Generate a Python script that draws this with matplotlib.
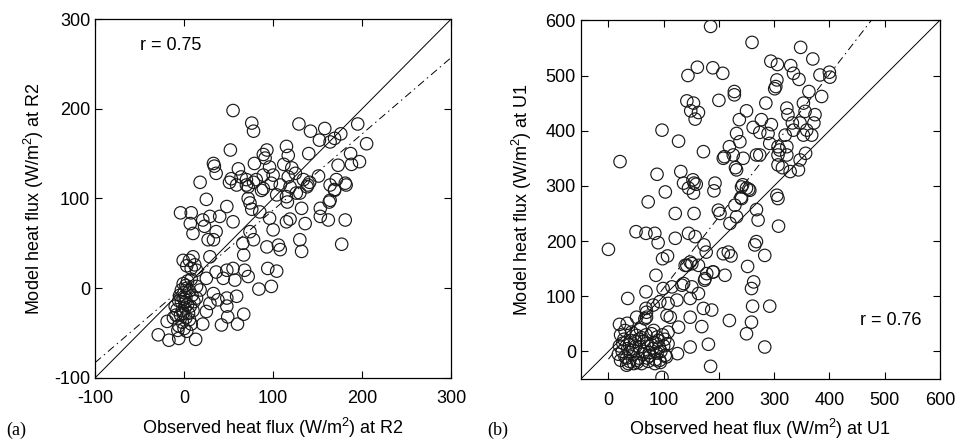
import matplotlib
matplotlib.use("Agg")
import matplotlib.pyplot as plt
import numpy as np

plt.rcParams['font.family'] = ['Liberation Sans', 'DejaVu Sans']
plt.rcParams['mathtext.default'] = 'regular'
plt.rcParams['axes.unicode_minus'] = False

# ---- Panel (a): R2 ----
obs_r2 = [55, 76, 78, 129, 142, 158, 152, 169, 176, 164, 195, 205, 187, 197, 173, 171, 181, 169, 140, 115,
          117, 112, 121, 125, 117, 134, 141, 138, 151, 108, 119, 104, 115, 93, 89, 91, 96, 79, 89, 100,
          81, 78, 72, 87, 52, 33, 34, 36, 61, 53, 64, 70, 51, 59, 18, 25, 72, 126, 164, 70,
          89, 98, 139, 164, 182, 169, 130, 74, 116, 163, -4, 8, 48, 76, 85, 132, 153, 7, 21, 29,
          40, 55, 96, 115, 119, 136, 153, 162, 181, 10, 23, 36, 27, 33, 74, 100, 66, 78, 93, 106,
          108, 130, 132, 177, 67, 29, -1, 6, 12, 14, 25, 36, 48, 55, 44, 57, 68, 72, 94, 104,
          84, 98, 18, 33, 38, 48, 59, 29, 25, 48, 67, 49, 42, 60, 21, 8, -19, -7, -29, -17,
          -6, 13, -10, -9, 14, 14,
          0, 2, -3, 4, -5, 1, -2, 5, -4, 3, -1, 6, 0, -6, 7, 2, -3, 9, -8, 4,
          1, -2, 10, 6, 0, -12, 3, 11, -6, 8, -1, 2, 3, 8, 10, 188]
mod_r2 = [198, 184, 175, 183, 175, 178, 165, 167, 172, 163, 183, 161, 150, 141, 137, 121, 117, 110, 150, 158,
          148, 138, 134, 128, 124, 121, 118, 113, 125, 115, 113, 104, 102, 154, 149, 145, 135, 139, 126, 126,
          121, 118, 113, 109, 154, 139, 136, 128, 133, 122, 124, 121, 118, 115, 118, 99, 100, 106, 98, 115,
          111, 117, 115, 115, 115, 109, 106, 95, 96, 96, 84, 84, 91, 88, 85, 89, 89, 72, 76, 80,
          80, 74, 78, 74, 77, 72, 80, 76, 76, 61, 69, 63, 54, 54, 63, 65, 50, 54, 46, 48,
          43, 54, 41, 49, 37, 35, 31, 31, 26, 20, 11, 18, 20, 22, 11, 9, 20, 13, 22, 19,
          -1, 2, -2, -6, -13, -11, -9, -17, -26, -20, -29, -32, -41, -40, -40, -40, -37, -47, -52, -58,
          -56, -57, -20, -30, -11, 2,
          -5, -10, -15, -18, -8, -22, -25, -28, -30, 0, 5, -3, -12, -14, -20, -33, -2, -8, -24, 8,
          -16, -38, -25, -35, -45, -33, -48, -15, -42, 10, -28, 3, 25, 22, 35, 138]
fit_r2 = (0.85, 2.0)   # slope, intercept of dash-dot regression line
r_r2 = "r = 0.75"

# ---- Panel (b): U1 ----
obs_u1 = [185, 260, 348, 370, 294, 306, 330, 335, 345, 383, 400, 401, 161, 144, 189, 207, 305, 303, 301, 228,
          228, 363, 386, 200, 142, 154, 149, 163, 157, 285, 323, 353, 356, 374, 325, 372, 250, 237, 277, 295,
          262, 274, 289, 333, 347, 335, 359, 368, 353, 320, 232, 238, 219, 226, 208, 244, 268, 292, 307, 310,
          323, 307, 323, 307, 315, 329, 344, 347, 357, 230, 172, 97, 127, 21, 88, 131, 153, 159, 145, 193,
          191, 243, 250, 103, 305, 136, 155, 154, 232, 254, 210, 274, 307, 199, 202, 241, 256, 241, 229, 232,
          220, 268, 271, 308, 72, 121, 155, 50, 68, 84, 90, 121, 145, 157, 0, 98, 107, 173, 177, 208,
          217, 222, 268, 265, 283, 142, 151, 163, 178, 189, 174, 211, 86, 136, 151, 163, 99, 68, 35, 124,
          93, 81, 108, 148, 172, 187, 106, 112, 68, 69, 51, 20, 34, 127, 148, 169, 219, 250, 259, 261,
          292, 259, 263, 252, 181, 148, 125, 283, 185, 97, 93, 103, 108, 88, 78, 51, 36, 22, 51, 115,
          133, 69, 66, 108, 33, 240, 175, 190, 139, 148,
          20, 25, 30, 35, 40, 45, 50, 55, 60, 65, 70, 75, 80, 85, 90, 95, 100, 22, 28, 38,
          42, 48, 52, 58, 62, 68, 72, 78, 82, 88, 92, 98, 105, 18, 26, 33, 44, 56, 64, 74,
          84, 94, 46, 60, 30, 38, 55, 70, 86, 102]
mod_u1 = [589, 560, 551, 530, 526, 520, 518, 504, 493, 501, 506, 497, 515, 500, 514, 504, 492, 480, 476, 471,
          465, 471, 462, 455, 454, 450, 436, 433, 421, 450, 441, 450, 435, 429, 429, 414, 436, 420, 420, 411,
          406, 397, 395, 414, 414, 401, 401, 392, 392, 392, 395, 380, 371, 356, 350, 350, 356, 377, 371, 365,
          371, 356, 356, 338, 333, 326, 329, 347, 359, 333, 362, 401, 381, 344, 321, 326, 311, 303, 296, 305,
          291, 302, 296, 289, 283, 305, 305, 287, 329, 294, 353, 356, 277, 256, 250, 298, 292, 277, 265, 244,
          232, 257, 238, 227, 271, 250, 250, 217, 214, 214, 197, 205, 214, 208, 185, 168, 173, 193, 180, 177,
          180, 173, 199, 193, 174, 156, 159, 156, 141, 144, 129, 138, 138, 123, 117, 105, 114, 108, 96, 93,
          90, 84, 87, 96, 78, 75, 65, 62, 78, 62, 62, 49, 51, 44, 62, 45, 56, 32, 53, 82,
          82, 114, 126, 154, 13, 8, -4, 8, -27, -47, -16, -7, 14, 26, 32, 29, -22, -16, -16, 117,
          120, 71, 59, 35, -25, 279, 132, 144, 156, 162,
          10, 0, -10, 5, 20, -5, 10, -12, 25, 0, 15, -8, 5, -15, 20, 0, 10, 30, 22, -18,
          35, 18, -20, 40, -5, 30, -18, 12, 38, -3, 8, 30, -10, -5, 15, -12, 2, 8, 18, -2,
          -22, -20, -22, -22, 38, 12, 22, -12, 15, 22]
fit_u1 = (1.29, -14.0)
r_u1 = "r = 0.76"

fig = plt.figure(figsize=(9.6, 4.42), dpi=100)
ax1 = fig.add_axes([0.099, 0.145, 0.371, 0.812])
ax2 = fig.add_axes([0.605, 0.1425, 0.374, 0.8115])

mk = dict(s=80, facecolors='none', edgecolors='#1a1a1a', linewidths=0.85, zorder=3)
fs = 13

# Panel (a)
ax1.scatter(obs_r2, mod_r2, **mk)
xa = np.array([-100, 300])
ax1.plot(xa, xa, color='black', lw=0.7, zorder=2)
ax1.plot(xa, fit_r2[0] * xa + fit_r2[1], color='black', lw=0.7, ls=(0, (8, 4, 1.5, 4)), zorder=2)
ax1.set_xlim(-100, 300)
ax1.set_ylim(-100, 300)
ax1.set_xticks([-100, 0, 100, 200, 300])
ax1.set_yticks([-100, 0, 100, 200, 300])
ax1.text(-50, 271, r_r2, fontsize=fs, va='center', ha='left')
ax1.set_xlabel("Observed heat flux (W/m$^2$) at R2", fontsize=fs, labelpad=6)
ax1.set_ylabel("Model heat flux (W/m$^2$) at R2", fontsize=fs, labelpad=6)

# Panel (b)
ax2.scatter(obs_u1, mod_u1, **mk)
xb = np.array([-50, 600])
ax2.plot(xb, xb, color='black', lw=0.7, zorder=2)
xf = np.array([0, (600 - fit_u1[1]) / fit_u1[0]])
ax2.plot(xf, fit_u1[0] * xf + fit_u1[1], color='black', lw=0.7, ls=(0, (8, 4, 1.5, 4)), zorder=2)
ax2.set_xlim(-50, 600)
ax2.set_ylim(-50, 600)
ax2.set_xticks(range(0, 601, 100))
ax2.set_yticks(range(0, 601, 100))
ax2.text(455, 56, r_u1, fontsize=fs, va='center', ha='left')
ax2.set_xlabel("Observed heat flux (W/m$^2$) at U1", fontsize=fs, labelpad=6)
ax2.set_ylabel("Model heat flux (W/m$^2$) at U1", fontsize=fs, labelpad=8)

for ax in (ax1, ax2):
    ax.tick_params(direction='in', top=True, right=True, length=5, width=0.8, labelsize=fs)
    ax.tick_params(axis='x', pad=9)
    for sp in ax.spines.values():
        sp.set_linewidth(0.9)

fig.text(0.006, 0.026, "(a)", fontsize=fs, family=['Liberation Serif', 'DejaVu Serif'], va='center')
fig.text(0.508, 0.026, "(b)", fontsize=fs, family=['Liberation Serif', 'DejaVu Serif'], va='center')

fig.savefig("out.png", dpi=100)
